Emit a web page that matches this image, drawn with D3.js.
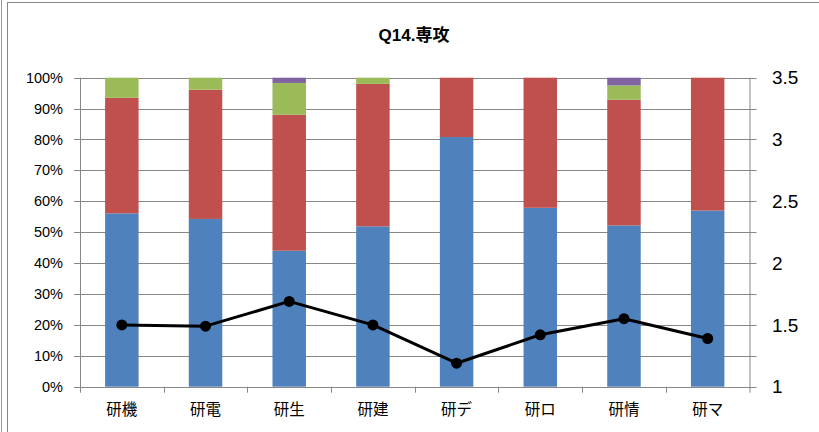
<!DOCTYPE html>
<html><head><meta charset="utf-8">
<script src="https://cdn.jsdelivr.net/npm/d3@7"></script>
<style>body{margin:0;background:#fff}svg{display:block}</style>
</head><body>
<svg id="c" width="819" height="432"></svg>
<script>
const categories = ["研機","研電","研生","研建","研デ","研ロ","研情","研マ"];
const s1 = [56.1, 54.3, 44.0, 51.9, 80.8, 57.9, 52.2, 57.0];
const s2 = [37.4, 41.8, 44.0, 46.1, 19.2, 42.1, 40.7, 43.0];
const s3 = [6.5, 3.9, 10.3, 2.0, 0, 0, 4.6, 0];
const s4 = [0, 0, 1.7, 0, 0, 0, 2.5, 0];
const avg = [1.50, 1.49, 1.69, 1.50, 1.19, 1.42, 1.55, 1.39];
const leftTicks = [0,10,20,30,40,50,60,70,80,90,100];
const rightTicks = [1,1.5,2,2.5,3,3.5];
const colors = ["#4F81BD","#C0504D","#9BBB59","#8064A2"];

const svg = d3.select("#c");
const L = 80, R = 749.5, T = 77.7, B = 386.7;
const grid = "#878787";

// frame
svg.append("line").attr("x1",1.5).attr("x2",1.5).attr("y1",0).attr("y2",432).attr("stroke","#9a9a9a");
svg.append("rect").attr("x",7.5).attr("y",2.5).attr("width",830).attr("height",450)
  .attr("fill","none").attr("stroke","#888");

const x = d3.scaleBand().domain(categories).range([L, R]).paddingInner(0.6).paddingOuter(0.3);
const xb = d3.scaleBand().domain(categories).range([L, R]);
const y = d3.scaleLinear().domain([0,100]).range([B, T]);
const y2 = d3.scaleLinear().domain([1,3.5]).range([B, T]);

// gridlines
svg.append("g").selectAll("line").data(leftTicks.filter(d=>d>0)).join("line")
  .attr("x1",L-6).attr("x2",R+7).attr("y1",d=>Math.round(y(d))+0.5).attr("y2",d=>Math.round(y(d))+0.5)
  .attr("stroke",grid).attr("stroke-width",1);

// stacked bars
const stackData = categories.map((c,i)=>({c, a:s1[i], b:s2[i], g:s3[i], p:s4[i]}));
const stack = d3.stack().keys(["a","b","g","p"])(stackData);
svg.append("g").selectAll("g").data(stack).join("g").attr("fill",(d,i)=>colors[i])
  .selectAll("rect").data(d=>d).join("rect")
  .attr("x",d=>x(d.data.c)).attr("width",x.bandwidth())
  .attr("y",d=>y(Math.min(d[1],100))).attr("height",d=>Math.max(0,y(d[0])-y(Math.min(d[1],100))));

// axes
const axG = svg.append("g").attr("stroke",grid).attr("stroke-width",1);
axG.append("line").attr("x1",L+0.5).attr("x2",L+0.5).attr("y1",T).attr("y2",B+6);
axG.append("line").attr("x1",R+0.5).attr("x2",R+0.5).attr("y1",T).attr("y2",B+6);
axG.append("line").attr("x1",L-6).attr("x2",R+7).attr("y1",Math.round(B)+0.5).attr("y2",Math.round(B)+0.5);
axG.selectAll("line.bt").data(categories.slice(1)).join("line").attr("class","bt")
  .attr("x1",d=>Math.round(xb(d))+0.5).attr("x2",d=>Math.round(xb(d))+0.5).attr("y1",B).attr("y2",B+6);

// left labels
svg.append("g").selectAll("text").data(leftTicks).join("text")
  .attr("x",63).attr("y",d=>y(d)).attr("dy","0.35em").attr("text-anchor","end")
  .attr("font-family","Liberation Sans, Arial, sans-serif").attr("font-size",14.5).attr("fill","#000")
  .text(d=>d+"%");
// right labels
svg.append("g").selectAll("text").data(rightTicks).join("text")
  .attr("x",772).attr("y",d=>y2(d)).attr("dy","0.35em").attr("text-anchor","start")
  .attr("font-family","Liberation Sans, Arial, sans-serif").attr("font-size",19).attr("fill","#000")
  .text(d=>d);
// category labels
svg.append("g").selectAll("text").data(categories).join("text")
  .attr("x",d=>xb(d)+xb.bandwidth()/2).attr("y",410).attr("dy","0.35em").attr("text-anchor","middle")
  .attr("font-family","Noto Sans CJK JP, sans-serif").attr("font-size",15.5).attr("fill","#000")
  .text(d=>d);

// line
const line = d3.line().x((d,i)=>xb(categories[i])+xb.bandwidth()/2).y(d=>y2(d));
svg.append("path").datum(avg).attr("d",line).attr("fill","none").attr("stroke","#000").attr("stroke-width",3).attr("stroke-linejoin","round");
svg.append("g").selectAll("circle").data(avg).join("circle")
  .attr("cx",(d,i)=>xb(categories[i])+xb.bandwidth()/2).attr("cy",d=>y2(d)).attr("r",5.5).attr("fill","#000");

// title
svg.append("text").attr("x",414).attr("y",41).attr("text-anchor","middle")
  .attr("font-family","Liberation Sans, Noto Sans CJK JP, sans-serif").attr("font-weight","bold").attr("font-size",17)
  .text("Q14.専攻");
</script>
</body></html>
